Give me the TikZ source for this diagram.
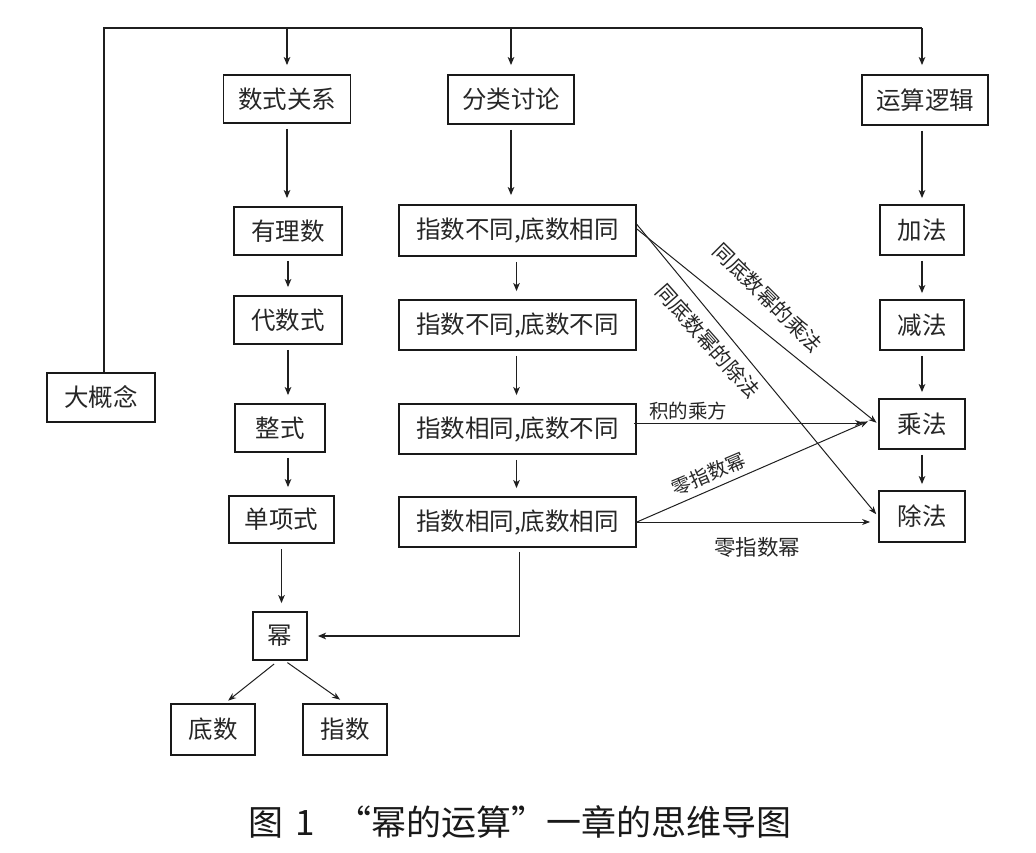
\documentclass[tikz,border=0pt]{standalone}
\usepackage{fontspec}
\newfontfamily\cjk{Noto Sans CJK SC}
\usetikzlibrary{arrows.meta,calc}
\begin{document}
\begin{tikzpicture}[x=1pt,y=-1pt,
  box/.style={draw=black!90,line width=1.8pt,inner sep=0pt,minimum height=49pt,
    font=\cjk\fontsize{24.5}{26}\selectfont,text=black!85},
  conn/.style={line width=1.6pt,draw=black!88,-{Stealth[length=8pt,width=6.5pt,inset=2pt]},
    shorten <=5pt,shorten >=8pt},
  diag/.style={line width=1pt,draw=black!88,-{Stealth[length=8pt,width=6pt,inset=2.5pt]}},
  lab/.style={inner sep=0pt,font=\cjk\fontsize{20.5}{22}\selectfont,text=black!85},
  labs/.style={inner sep=0pt,font=\cjk\fontsize{19.5}{21}\selectfont,text=black!85},
  capt/.style={inner sep=0pt,font=\cjk\fontsize{35}{37}\selectfont,text=black!90}]
\useasboundingbox[fill=white] (0,0) rectangle (1036,852);

% top row
\node[box,minimum width=127pt,minimum height=48pt] (sxgx) at (287,99) {数式关系};
\node[box,minimum width=126pt] (fltl) at (511,99.5) {分类讨论};
\node[box,minimum width=126pt,minimum height=50pt] (ysljj) at (925,100) {运算逻辑};
\node[box,minimum width=108pt] (dgn) at (101,397.5) {大概念};

% left column
\node[box,minimum width=108pt,minimum height=48pt] (yls) at (288,231) {有理数};
\node[box,minimum width=108pt,minimum height=48pt] (dss) at (288,320) {代数式};
\node[box,minimum width=90pt,minimum height=48pt] (zs) at (280,428) {整式};
\node[box,minimum width=105pt,minimum height=47pt] (dxs) at (281.5,519.5) {单项式};
\node[box,minimum width=54pt,minimum height=48pt] (mi) at (280,636) {幂};
\node[box,minimum width=84pt,minimum height=51pt] (ds) at (213,729.5) {底数};
\node[box,minimum width=84pt,minimum height=51pt] (zhs) at (345,729.5) {指数};

% middle column
\node[box,minimum width=237pt,minimum height=51pt] (c1) at (517.5,230.5) {指数不同,底数相同};
\node[box,minimum width=237pt,minimum height=50pt] (c2) at (517.5,325) {指数不同,底数不同};
\node[box,minimum width=237pt,minimum height=50pt] (c3) at (517.5,429) {指数相同,底数不同};
\node[box,minimum width=237pt,minimum height=50pt] (c4) at (517.5,522) {指数相同,底数相同};

% right column
\node[box,minimum width=84pt,minimum height=50pt] (jf) at (922,230) {加法};
\node[box,minimum width=84pt,minimum height=50pt] (jianf) at (922,325) {减法};
\node[box,minimum width=86pt,minimum height=50pt] (cf) at (922,424) {乘法};
\node[box,minimum width=86pt,minimum height=51pt] (chuf) at (922,516.5) {除法};

% top bus
\coordinate (topL) at (104,28);
\coordinate (topR) at (922,28);
\draw[line width=1.8pt,draw=black!88] (topL |- dgn.north) -- (topL) -- (topR);
\draw[conn,shorten <=0pt,shorten >=9pt] (sxgx.north |- topR) -- (sxgx.north);
\draw[conn,shorten <=0pt,shorten >=9pt] (fltl.north |- topR) -- (fltl.north);
\draw[conn,shorten <=0pt,shorten >=9pt] (topR) -- (topR |- ysljj.north);

% left column connectors
\draw[conn] (sxgx.south) -- (sxgx.south |- yls.north);
\draw[conn] (yls.south) -- (dss.north);
\draw[conn] (dss.south) -- (dss.south |- zs.north);
\draw[conn] (dss.south |- zs.south) -- (dss.south |- dxs.north);
\draw[conn] (dxs.south) -- (dxs.south |- mi.north);
\draw[conn,shorten <=4pt,shorten >=10pt] ([xshift=2pt]c4.south) |- (mi.east);
\draw[diag,shorten <=5pt,shorten >=4pt] ([xshift=-2pt]mi.south) -- ([xshift=12pt]ds.north);
\draw[diag,shorten <=3pt,shorten >=6pt] ([xshift=5pt]mi.south) -- (zhs.north);

% middle column connectors
\draw[conn,shorten >=9pt] (fltl.south) -- (fltl.south |- c1.north);
\draw[conn] ([xshift=-1pt]c1.south) -- ([xshift=-1pt]c1.south |- c2.north);
\draw[conn] ([xshift=-1pt]c2.south) -- ([xshift=-1pt]c2.south |- c3.north);
\draw[conn] ([xshift=-1pt]c3.south) -- ([xshift=-1pt]c3.south |- c4.north);

% right column connectors
\draw[conn,shorten >=6pt] (ysljj.south -| jf.north) -- (jf.north);
\draw[conn,shorten >=6pt] (jf.south) -- (jianf.north);
\draw[conn,shorten >=6pt] (jianf.south) -- (cf.north);
\draw[conn,shorten >=6pt] (cf.south) -- (chuf.north);

% cross connectors
\draw[diag,shorten <=0pt,shorten >=2pt] ([yshift=1.5pt]c1.east) -- (cf.west);
\draw[diag,shorten <=0pt,shorten >=3pt] ([yshift=6pt]c1.east) -- (chuf.west);
\draw[diag,shorten <=-3pt,shorten >=15pt] ([yshift=1pt]cf.west -| c3.east) -- ([yshift=1pt]cf.west);
\draw[diag,shorten <=-1pt,shorten >=11pt] (c4.east) -- ([yshift=7pt]cf.west);
\draw[diag,shorten <=-1pt,shorten >=8pt] (c4.east) -- (c4.east -| chuf.west);

% labels
\node[lab,rotate=-45] (l1) at (768,298) {同底数幂的乘法};
\node[lab,rotate=-48.5] (l2) at (708,341) {同底数幂的除法};
\node[labs] (l3) at (688,411) {积的乘方};
\node[labs,rotate=23] (l4) at (709,474) {零指数幂};
\node[lab,font=\cjk\fontsize{21.5}{23}\selectfont] (l5) at (757,547) {零指数幂};

% caption
\node[capt] (cap) at (520,822) {图\hspace{0.35em}1\hspace{0.6em}“幂的运算”一章的思维导图};
\end{tikzpicture}
\end{document}
